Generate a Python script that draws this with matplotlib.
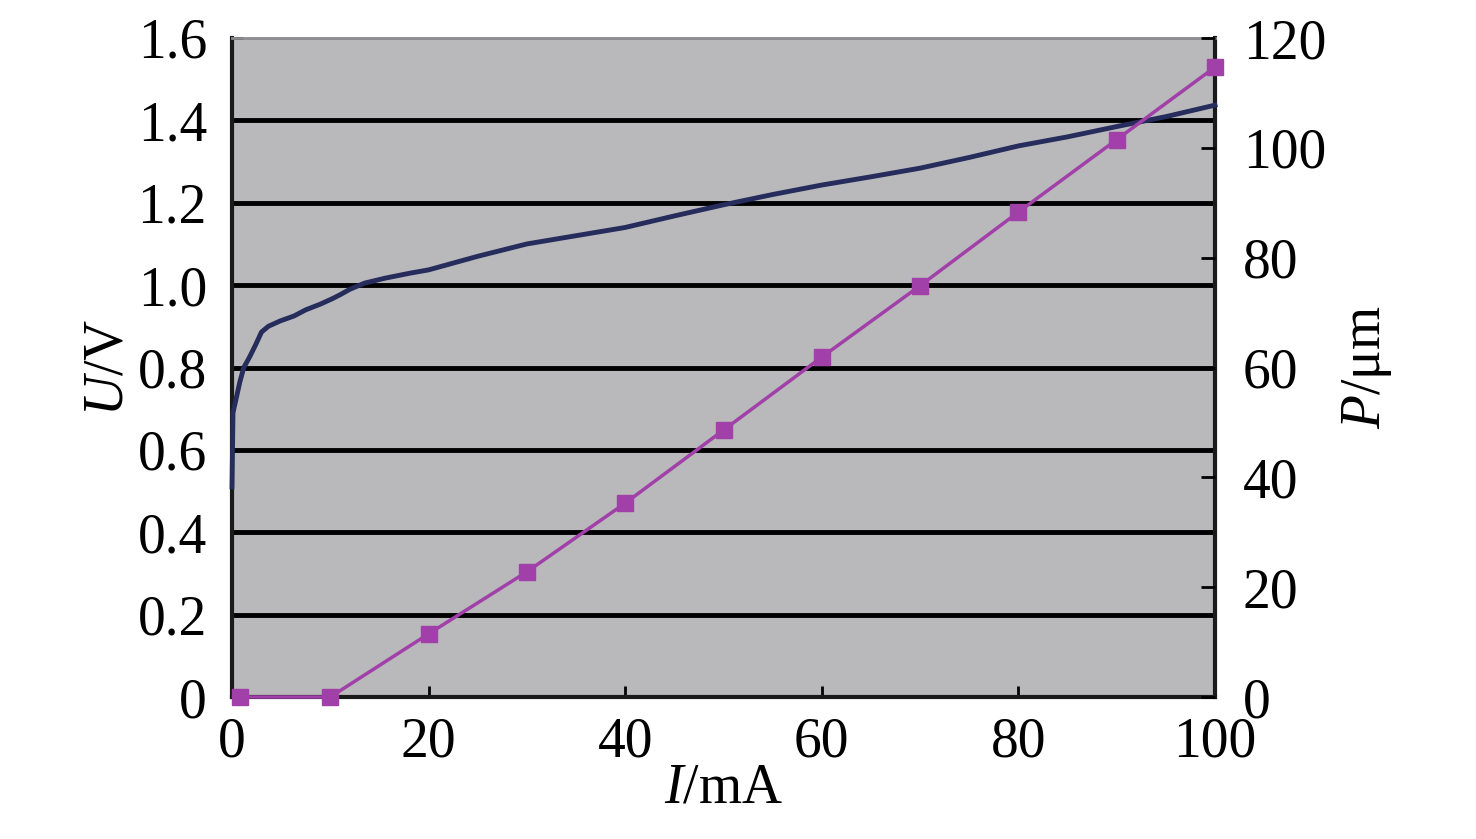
import matplotlib
matplotlib.use("Agg")
import matplotlib.pyplot as plt

# U-I curve (left axis)
i_u = [0, 0.1, 0.8, 1.2, 1.8, 2.4, 3.0, 3.7, 4.9, 6.3, 7.5, 9.0, 10.2, 11.1, 12.0,
       13.5, 15.6, 18.1, 20, 25, 30, 35, 40, 45, 50, 55, 60, 65, 70, 75, 80, 85,
       90, 95, 100]
u_v = [0.51, 0.69, 0.765, 0.80, 0.826, 0.855, 0.886, 0.90, 0.913, 0.925, 0.94, 0.954,
       0.967, 0.978, 0.99, 1.005, 1.017, 1.029, 1.037, 1.07, 1.10, 1.12, 1.14, 1.168,
       1.195, 1.22, 1.243, 1.263, 1.284, 1.31, 1.338, 1.36, 1.385, 1.409, 1.437]

# P-I points (right axis)
i_p = [0.8, 10, 20, 30, 40, 50, 60, 70, 80, 90, 100]
p_um = [0, 0, 11.5, 22.8, 35.3, 48.6, 61.9, 74.9, 88.3, 101.5, 114.7]

plt.rcParams['font.family'] = ['Liberation Serif', 'DejaVu Serif']
plt.rcParams['mathtext.fontset'] = 'custom'
plt.rcParams['mathtext.it'] = 'Liberation Serif:italic'
plt.rcParams['mathtext.rm'] = 'Liberation Serif'

fs = 40

fig = plt.figure(figsize=(14.76, 8.39), dpi=100)
ax = fig.add_axes([232/1476, 1-697/839, (1215-232)/1476, (697-38)/839])
ax.set_facecolor('#b9b9bb')

for yv in [0.2, 0.4, 0.6, 0.8, 1.0, 1.2, 1.4]:
  ax.axhline(yv, color='black', lw=3.5, zorder=1)

ax.plot(i_u, u_v, color='#262c5c', lw=3.5, zorder=3, clip_on=False)
ax.set_xlim(0, 100)
ax.set_ylim(0, 1.6)
ax.set_xticks([0, 20, 40, 60, 80, 100])
ax.set_yticks([0, 0.2, 0.4, 0.6, 0.8, 1.0, 1.2, 1.4, 1.6])
ax.set_yticklabels(['0', '0.2', '0.4', '0.6', '0.8', '1.0', '1.2', '1.4', '1.6'])
ax.tick_params(axis='both', direction='in', labelsize=fs, length=8, width=2)
ax.tick_params(axis='x', pad=14)
ax.tick_params(axis='y', pad=18)
ax.set_xlabel('$I$/mA', fontsize=fs, labelpad=-4)
ax.set_ylabel('$U$/V', fontsize=fs, labelpad=2)

for side in ['left', 'bottom', 'right']:
  ax.spines[side].set_linewidth(3)
  ax.spines[side].set_color('#1a1a1a')
ax.spines['top'].set_color('#8c8c90')
ax.spines['top'].set_linewidth(2)

ax2 = ax.twinx()
ax2.plot(i_p, p_um, color='#a040a8', lw=2.5, marker='s', markersize=11, zorder=4,
         clip_on=False)
ax2.set_ylim(0, 120)
ax2.set_yticks([0, 20, 40, 60, 80, 100, 120])
ax2.tick_params(axis='y', direction='in', labelsize=fs, length=10, width=2, pad=20)
ax2.set_ylabel('$P$/μm', fontsize=fs, labelpad=10)
for s in ax2.spines.values():
  s.set_visible(False)

fig.savefig('out.png', dpi=100, facecolor='white')
